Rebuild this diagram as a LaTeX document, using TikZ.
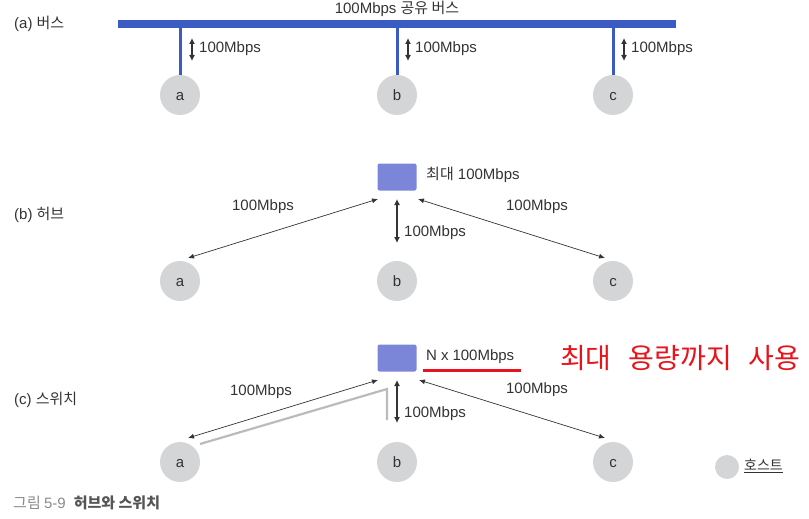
\documentclass[tikz,border=0pt]{standalone}
\usepackage{fontspec}
\setmainfont{Liberation Sans}
\newfontfamily\kr{Noto Sans CJK KR}
\usetikzlibrary{arrows.meta,calc}
\definecolor{busblue}{HTML}{3A5BC2}
\definecolor{boxblue}{HTML}{7C86D9}
\definecolor{hostgray}{HTML}{D4D5D7}
\definecolor{linegray}{HTML}{BBBBBB}
\definecolor{txt}{HTML}{333333}
\definecolor{redc}{HTML}{E8141B}
\definecolor{capgray}{HTML}{8A8A8A}
\definecolor{capdark}{HTML}{555555}
\tikzset{
  lbl/.style={font=\fontsize{15}{17}\selectfont, text=txt, inner sep=0pt},
  host/.style={circle, fill=hostgray, minimum size=40pt, inner sep=0pt, text height=11pt, text depth=0pt, font=\fontsize{15}{17}\selectfont, text=txt},
  swbox/.style={rectangle, rounded corners=2pt, fill=boxblue, minimum width=39pt, minimum height=27pt, inner sep=0pt},
  drop/.style={busblue, line width=3pt},
  thinarr/.style={txt, line width=0.7pt, {Latex[length=6pt,width=5pt]}-{Latex[length=6pt,width=5pt]}},
  midarr/.style={txt, line width=1.1pt, {Latex[length=6pt,width=6pt]}-{Latex[length=6pt,width=6pt]}},
  grayline/.style={linegray, line width=2.2pt},
}
\begin{document}
\begin{tikzpicture}[x=1pt,y=-1pt]
\useasboundingbox (0,0) rectangle (809,519);
% ---------- (a) bus ----------
\node[lbl, anchor=west] (la) at (14,24) {(a) {\kr 버스}};
\node[rectangle, fill=busblue, minimum width=558pt, minimum height=8pt, inner sep=0pt] (bus) at (397,24) {};
\node[lbl] (bustitle) at (397,9) {100Mbps {\kr 공유 버스}};
\node[host] (a1) at (180,95) {a};
\node[host] (b1) at (397,95) {b};
\node[host] (c1) at (613,95) {c};
\draw[drop] (a1.north) -- (a1.north |- bus.south);
\draw[drop] (b1.north) -- (b1.north |- bus.south);
\draw[drop] (c1.north) -- (c1.north |- bus.south);
\foreach \n/\x in {a/192,b/408,c/624}{
  \coordinate (\n1t) at (\x,38);
  \coordinate (\n1b) at (\x,61);
  \draw[midarr] (\n1t) -- (\n1b);
  \node[lbl, anchor=west] (\n1l) at (\x+7,49) {100Mbps};
}
% ---------- (b) hub ----------
\node[lbl, anchor=west] (lb) at (14,215) {(b) {\kr 허브}};
\node[swbox] (hub) at (397,177) {};
\node[lbl, anchor=west] (hubl) at (426,175) {{\kr 최대} 100Mbps};
\node[host] (a2) at (180,281) {a};
\node[host] (b2) at (397,281) {b};
\node[host] (c2) at (613,281) {c};
\coordinate (h2l) at (378,199);
\coordinate (h2m) at (397,199);
\coordinate (h2r) at (418,199);
\coordinate (a2e) at ($(a2)+(8,-23)$);
\coordinate (b2e) at (397,243);
\coordinate (c2e) at ($(c2)+(-8,-23)$);
\draw[thinarr] (h2l) -- (a2e);
\draw[midarr] (h2m) -- (b2e);
\draw[thinarr] (h2r) -- (c2e);
\node[lbl] (b2ll) at (263,207) {100Mbps};
\node[lbl, anchor=west] (b2ml) at (404,233) {100Mbps};
\node[lbl] (b2rl) at (537,207) {100Mbps};
% ---------- (c) switch ----------
\node[lbl, anchor=west] (lc) at (14,400) {(c) {\kr 스위치}};
\node[swbox] (sw) at (397,358) {};
\node[lbl, anchor=west] (swl) at (426,357) {N\hspace{4pt}x\hspace{4pt}100Mbps};
\draw[redc, line width=3pt] (423,370) -- (521,370);
\node[anchor=west, inner sep=0pt, text=redc, font=\kr\fontsize{28}{30}\selectfont] (red) at (560,358) {최대\hspace{17pt}용량까지\hspace{17pt}사용};
\node[host] (a3) at (180,462) {a};
\node[host] (b3) at (397,462) {b};
\node[host] (c3) at (613,462) {c};
\coordinate (g1) at ($(a3)+(20,-18)$);
\coordinate (g2) at (387,389);
\coordinate (g3) at (387,420);
\draw[grayline] (g1) -- (g2) -- (g3);
\coordinate (h3l) at (378,380);
\coordinate (h3m) at (397,380);
\coordinate (h3r) at (419,380);
\coordinate (a3e) at ($(a3)+(8,-24)$);
\coordinate (b3e) at (397,423);
\coordinate (c3e) at ($(c3)+(-8,-24)$);
\draw[thinarr] (h3l) -- (a3e);
\draw[midarr] (h3m) -- (b3e);
\draw[thinarr] (h3r) -- (c3e);
\node[lbl] (c3ll) at (261,392) {100Mbps};
\node[lbl, anchor=west] (c3ml) at (404,414) {100Mbps};
\node[lbl] (c3rl) at (537,390) {100Mbps};
% ---------- legend ----------
\node[circle, fill=hostgray, minimum size=24pt, inner sep=0pt] (leg) at (727,467) {};
\node[lbl, anchor=west, font=\kr\fontsize{14}{16}\selectfont] (legl) at (744,466) {\underline{호스트}};
% ---------- caption ----------
\node[anchor=west, inner sep=0pt, font=\kr\fontsize{15}{17}\selectfont] (cap) at (13,503) {\textcolor{capgray}{그림 {\fontspec{Liberation Sans}5-9}}\hspace{8pt}\textcolor{capdark}{\bfseries 허브와 스위치}};
\end{tikzpicture}
\end{document}
